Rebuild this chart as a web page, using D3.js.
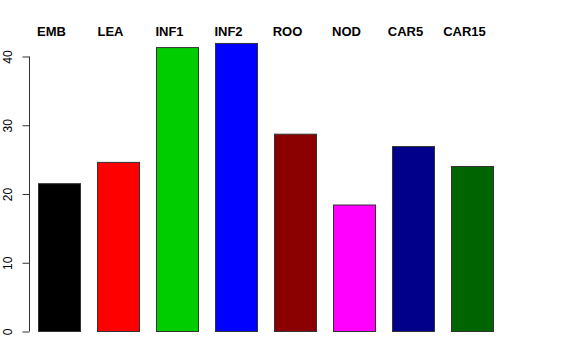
<!DOCTYPE html>
<html>
<head>
<meta charset="utf-8">
<script src="https://cdn.jsdelivr.net/npm/d3@7"></script>
<style>
  body { margin: 0; background: #fff; }
  text { font-family: "Liberation Sans", Arial, sans-serif; }
</style>
</head>
<body>
<div id="chart"></div>
<script>
// values
var categories = ["EMB", "LEA", "INF1", "INF2", "ROO", "NOD", "CAR5", "CAR15"];
var values = [21.5, 24.6, 41.3, 41.9, 28.7, 18.4, 26.9, 24.0];
var colors = ["#000000", "#ff0000", "#00cd00", "#0000ff", "#8b0000", "#ff00ff", "#00008b", "#006400"];
var yTicks = [0, 10, 20, 30, 40];

var W = 576, H = 360;
var svg = d3.select("#chart").append("svg").attr("width", W).attr("height", H);

var x = d3.scaleBand().domain(categories).range([38, 493]).paddingInner(0.288).paddingOuter(0);
var y = d3.scaleLinear().domain([0, 40]).range([331, 56]);

svg.selectAll("rect.bar").data(values).enter().append("rect")
    .attr("class", "bar")
    .attr("x", function(d, i) { return x(categories[i]) + 0.5; })
    .attr("y", function(d) { return y(d) + 0.5; })
    .attr("width", x.bandwidth())
    .attr("height", function(d) { return y(0) - y(d); })
    .attr("fill", function(d, i) { return colors[i]; })
    .attr("stroke", "#333")
    .attr("stroke-width", 1);

// y axis (R style: ticks and labels rotated)
var yAxis = d3.axisLeft(y).tickValues(yTicks).tickSize(7).tickPadding(0).tickSizeOuter(0);
var ag = svg.append("g").attr("transform", "translate(29.5,0.5)").call(yAxis);
ag.select(".domain").attr("d", "M0," + y(40) + "V" + y(0)).attr("stroke", "#333");
ag.selectAll(".tick line").attr("stroke", "#333");
ag.selectAll(".tick text")
    .attr("x", 0).attr("dy", null)
    .attr("transform", "translate(-18,0) rotate(-90)")
    .attr("text-anchor", "middle")
    .style("font-size", "12px")
    .attr("fill", "#000")
    .attr("font-family", "Liberation Sans, Arial, sans-serif");

// category labels along the top
svg.selectAll("text.lab").data(categories).enter().append("text")
    .attr("class", "lab")
    .attr("x", function(d) { return x(d) + x.bandwidth() / 2 - 7.5; })
    .attr("y", 35.5)
    .attr("text-anchor", "middle")
    .style("font-size", "13px")
    .style("font-weight", "bold")
    .text(function(d) { return d; });
</script>
</body>
</html>
